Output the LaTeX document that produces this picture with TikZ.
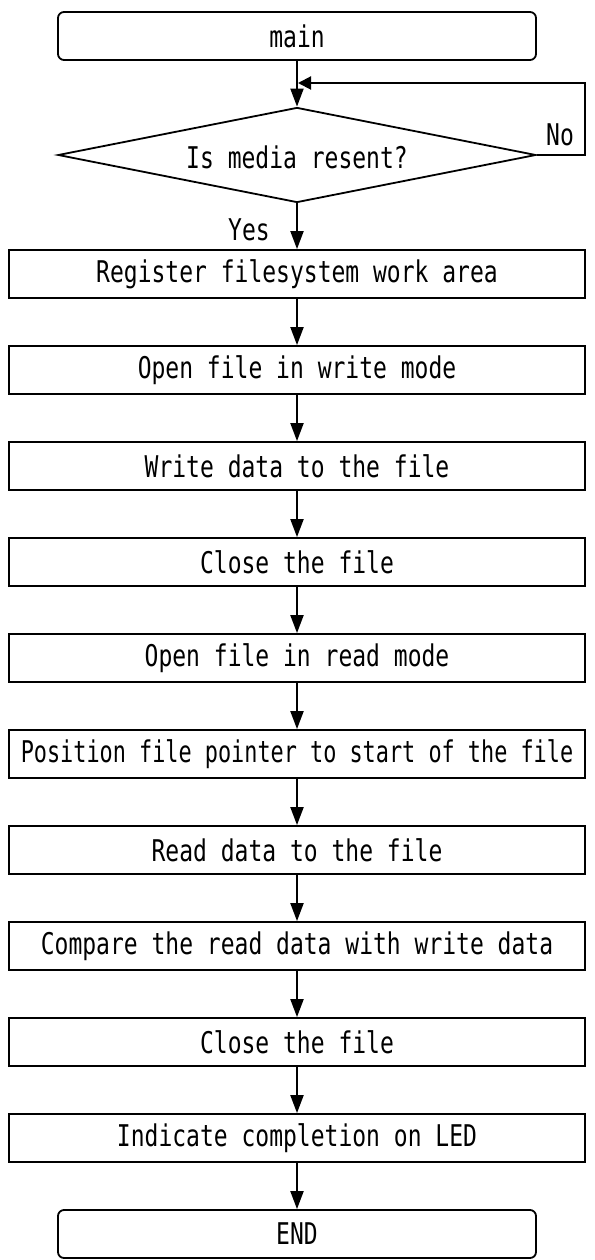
\documentclass[tikz,border=0pt]{standalone}
\usepackage{fontspec}
\setmonofont{DejaVu Sans Mono}
\usetikzlibrary{arrows.meta,shapes.geometric}
\newcommand{\tx}[2][1]{\scalebox{#1}[1.3]{#2}}
\begin{document}
\begin{tikzpicture}[x=1pt,y=-1pt,
  every node/.style={font=\ttfamily\fontsize{23}{25}\selectfont},
  proc/.style={draw,line width=1.8pt,minimum width=576pt,minimum height=48pt,inner sep=0pt},
  term/.style={draw,line width=1.8pt,rounded corners=6pt,minimum width=478pt,minimum height=48pt,inner sep=0pt},
  dec/.style={draw,line width=1.8pt,diamond,aspect=5.03,minimum width=478pt,minimum height=95pt,inner sep=0pt},
  arr/.style={line width=2pt,-{Triangle[length=18pt,width=13pt]}},
  arrL/.style={line width=2pt,-{Triangle[length=13pt,width=13pt]}},
  lbl/.style={inner sep=0pt}]
\useasboundingbox (0,0) rectangle (594,1260);
\node[term] (main) at (297,36) {\tx{main}};
\node[dec] (q) at (297,155) {};
\node[lbl] (qt) at (297,157) {\tx{Is media resent?}};
\node[proc] (b1) at (297,274) {\tx{Register filesystem work area}};
\node[proc] (b2) at (297,370) {\tx{Open file in write mode}};
\node[proc] (b3) at (297,466) {\tx{Write data to the file}};
\node[proc] (b4) at (297,562) {\tx{Close the file}};
\node[proc] (b5) at (297,658) {\tx{Open file in read mode}};
\node[proc] (b6) at (297,754) {\tx[0.95]{Position file pointer to start of the file}};
\node[proc] (b7) at (297,850) {\tx{Read data to the file}};
\node[proc] (b8) at (297,946) {\tx{Compare the read data with write data}};
\node[proc] (b9) at (297,1042) {\tx{Close the file}};
\node[proc] (b10) at (297,1138) {\tx{Indicate completion on LED}};
\node[term] (end) at (297,1234) {\tx{END}};
\node[lbl] (yes) at (249,230) {\tx{Yes}};
\node[lbl] (no) at (560,135) {\tx{No}};
\coordinate (lp) at (585,83);
\coordinate (jn) at (298,83);
\draw[arr] (main) -- (q);
\draw[arr] (q) -- (b1);
\draw[arrL] (q.east) -| (lp) -- (jn);
\draw[arr] (b1) -- (b2);
\draw[arr] (b2) -- (b3);
\draw[arr] (b3) -- (b4);
\draw[arr] (b4) -- (b5);
\draw[arr] (b5) -- (b6);
\draw[arr] (b6) -- (b7);
\draw[arr] (b7) -- (b8);
\draw[arr] (b8) -- (b9);
\draw[arr] (b9) -- (b10);
\draw[arr] (b10) -- (end);
\end{tikzpicture}
\end{document}
